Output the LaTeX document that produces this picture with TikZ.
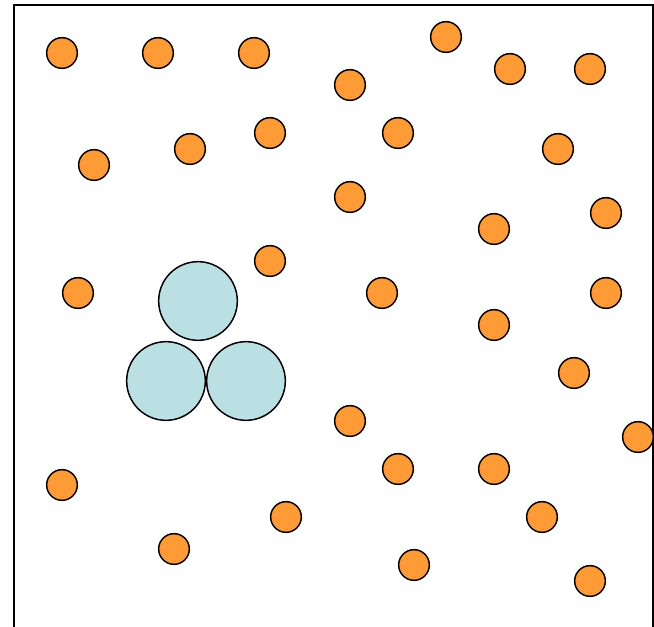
\documentclass[tikz,border=0pt]{standalone}
\definecolor{orangeball}{RGB}{253,155,55}
\definecolor{blueball}{RGB}{187,224,227}
\begin{document}
\begin{tikzpicture}[x=0.75pt,y=-0.75pt,
  small/.style={circle,draw=black,line width=1.1pt,fill=orangeball,minimum size=23pt,inner sep=0pt},
  big/.style={circle,draw=black,line width=1.1pt,fill=blueball,minimum size=59pt,inner sep=0pt},
  frame/.style={draw=black,line width=1.5pt}]
\useasboundingbox (0,0) rectangle (654,627);
\clip (0,0) rectangle (654,627);
\draw[frame] (14,660) -- (14,5) -- (653,5) -- (653,660);
\foreach \x/\y [count=\i] in {62/53,158/53,254/53,446/37,510/69,590/69,350/85,
  94/165,190/149,270/133,398/133,558/149,
  350/197,494/229,606/213,
  270/261,78/293,382/293,494/325,606/293,
  574/373,350/421,638/437,
  62/485,398/469,494/469,
  286/517,542/517,
  174/549,414/565,590/581}
  \node[small] (o\i) at (\x,\y) {};
\node[big] (b1) at (198,301) {};
\node[big] (b2) at (166,381) {};
\node[big] (b3) at (246,381) {};
\end{tikzpicture}
\end{document}
